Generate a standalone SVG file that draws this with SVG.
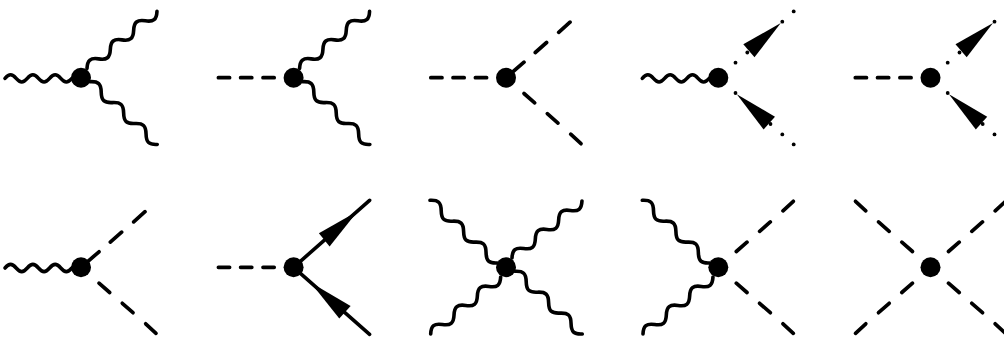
<svg xmlns="http://www.w3.org/2000/svg" xmlns:xlink="http://www.w3.org/1999/xlink" width="1004" height="338" viewBox="0 0 1004 338">
<style>
.w{fill:none;stroke:#000;stroke-width:3.6;stroke-linecap:round;stroke-linejoin:round}
.d{fill:none;stroke:#000;stroke-width:3.7;stroke-linecap:round}
.f{fill:none;stroke:#000;stroke-width:3.6;stroke-linecap:round}
.t{fill:#000;stroke:none}
.v{fill:#000}
.p{fill:#000}
</style>
<defs>
<path id="wh" class="w" d="M-76 0.7c4.2 -4.8 6.95 -4.8 11.15 0s6.95 4.8 11.15 0s6.95 -4.8 11.15 0s6.95 4.8 11.15 0s6.95 -4.8 11.15 0s6.95 4.8 11.15 0"/>
<path id="wu0" class="w" d="M0 0c5.5 -6.2 9.55 -6.2 15.05 0s9.55 6.2 15.05 0s9.55 -6.2 15.05 0s9.55 6.2 15.05 0s9.55 -6.2 15.05 0s9.55 6.2 15.05 0"/>
<path id="wl0" class="w" d="M0 0c5.8 -6 9.53 -6 15.33 0s9.53 6 15.33 0s9.53 -6 15.33 0s9.53 6 15.33 0s9.53 -6 15.33 0s9.53 6 15.33 0"/>
<use id="wu" href="#wu0" xlink:href="#wu0" transform="translate(6 -9.3) rotate(-39.2)"/>
<use id="wl" href="#wl0" xlink:href="#wl0" transform="translate(9 4) rotate(43)"/>
<use id="wul" href="#wl0" xlink:href="#wl0" transform="translate(-76 -67) rotate(43)"/>
<use id="wll" href="#wu0" xlink:href="#wu0" transform="translate(-75.3 66.7) rotate(-39.2)"/>
<path id="dh" class="d" d="M-75.2 0H-64M-53 0H-41.8M-30.6 0H-19.4"/>
<path id="dur" class="d" d="M18 -15.8L28.7 -25.2M41.3 -36L52 -45.4M64.7 -56.5L75 -66"/>
<path id="dlr" class="d" d="M18 15.8L28.7 25.2M41.3 36L52 45.4M64.7 56.5L75 66"/>
<path id="dul" class="d" d="M-18 -15.8L-28.7 -25.2M-41.3 -36L-52 -45.4M-64.7 -56.5L-75 -66"/>
<path id="dll" class="d" d="M-18 15.8L-28.7 25.2M-41.3 36L-52 45.4M-64.7 56.5L-75 66"/>
<path id="dus" class="d" d="M0 0L18 -15.5M29.3 -25.2L40.6 -35.2M52.7 -45.4L64 -55.6"/>
<polygon id="au" class="t" points="62.5,-54.6 25,-33.4 36.2,-20.4"/>
<polygon id="al" class="t" points="18.5,16.6 56.7,39 45.3,51.7"/>
<g id="dots">
<circle class="p" cx="17.2" cy="-15" r="1.9"/><circle class="p" cx="29" cy="-25.2" r="1.9"/><circle class="p" cx="64" cy="-56" r="1.9"/><circle class="p" cx="75.4" cy="-66.3" r="1.9"/>
<circle class="p" cx="17.2" cy="15.3" r="1.9"/><circle class="p" cx="52.2" cy="46.3" r="1.9"/><circle class="p" cx="64" cy="56.7" r="1.9"/><circle class="p" cx="75.4" cy="66.7" r="1.9"/>
</g>
</defs>
<g id="connectors">
<g transform="translate(81 77.7)"><use href="#wh" xlink:href="#wh"/><use href="#wu" xlink:href="#wu"/><use href="#wl" xlink:href="#wl"/></g>
<g transform="translate(293.6 77.7)"><use href="#dh" xlink:href="#dh"/><use href="#wu" xlink:href="#wu"/><use href="#wl" xlink:href="#wl"/></g>
<g transform="translate(506 77.7)"><use href="#dh" xlink:href="#dh"/><use href="#dus" xlink:href="#dus"/><use href="#dlr" xlink:href="#dlr"/></g>
<g transform="translate(718.3 77.7)"><use href="#wh" xlink:href="#wh"/><use href="#au" xlink:href="#au"/><use href="#al" xlink:href="#al"/><use href="#dots" xlink:href="#dots"/></g>
<g transform="translate(930.5 77.7)"><use href="#dh" xlink:href="#dh"/><use href="#au" xlink:href="#au"/><use href="#al" xlink:href="#al"/><use href="#dots" xlink:href="#dots"/></g>
<g transform="translate(81 267.3)"><use href="#wh" xlink:href="#wh"/><use href="#dus" xlink:href="#dus"/><use href="#dlr" xlink:href="#dlr"/></g>
<g transform="translate(293.6 267.3)"><use href="#dh" xlink:href="#dh"/><path class="f" d="M0 0L76 -67M0 0L76 67"/><polygon class="t" points="64,-56 25.3,-34 36,-20.7"/><polygon class="t" points="17,15.3 57,38.7 45.7,51.3"/></g>
<g transform="translate(506 267.3)"><use href="#wu" xlink:href="#wu"/><use href="#wl" xlink:href="#wl"/><use href="#wul" xlink:href="#wul"/><use href="#wll" xlink:href="#wll"/></g>
<g transform="translate(718.3 267.3)"><use href="#wul" xlink:href="#wul"/><use href="#wll" xlink:href="#wll"/><use href="#dur" xlink:href="#dur"/><use href="#dlr" xlink:href="#dlr"/></g>
<g transform="translate(930.5 267.3)"><use href="#dur" xlink:href="#dur"/><use href="#dlr" xlink:href="#dlr"/><use href="#dul" xlink:href="#dul"/><use href="#dll" xlink:href="#dll"/></g>
</g>
<g id="v1"><circle class="v" cx="81" cy="77.7" r="10"/></g>
<g id="v2"><circle class="v" cx="293.6" cy="77.7" r="10"/></g>
<g id="v3"><circle class="v" cx="506" cy="77.7" r="10"/></g>
<g id="v4"><circle class="v" cx="718.3" cy="77.7" r="10"/></g>
<g id="v5"><circle class="v" cx="930.5" cy="77.7" r="10"/></g>
<g id="v6"><circle class="v" cx="81" cy="267.3" r="10"/></g>
<g id="v7"><circle class="v" cx="293.6" cy="267.3" r="10"/></g>
<g id="v8"><circle class="v" cx="506" cy="267.3" r="10"/></g>
<g id="v9"><circle class="v" cx="718.3" cy="267.3" r="10"/></g>
<g id="v10"><circle class="v" cx="930.5" cy="267.3" r="10"/></g>
</svg>
